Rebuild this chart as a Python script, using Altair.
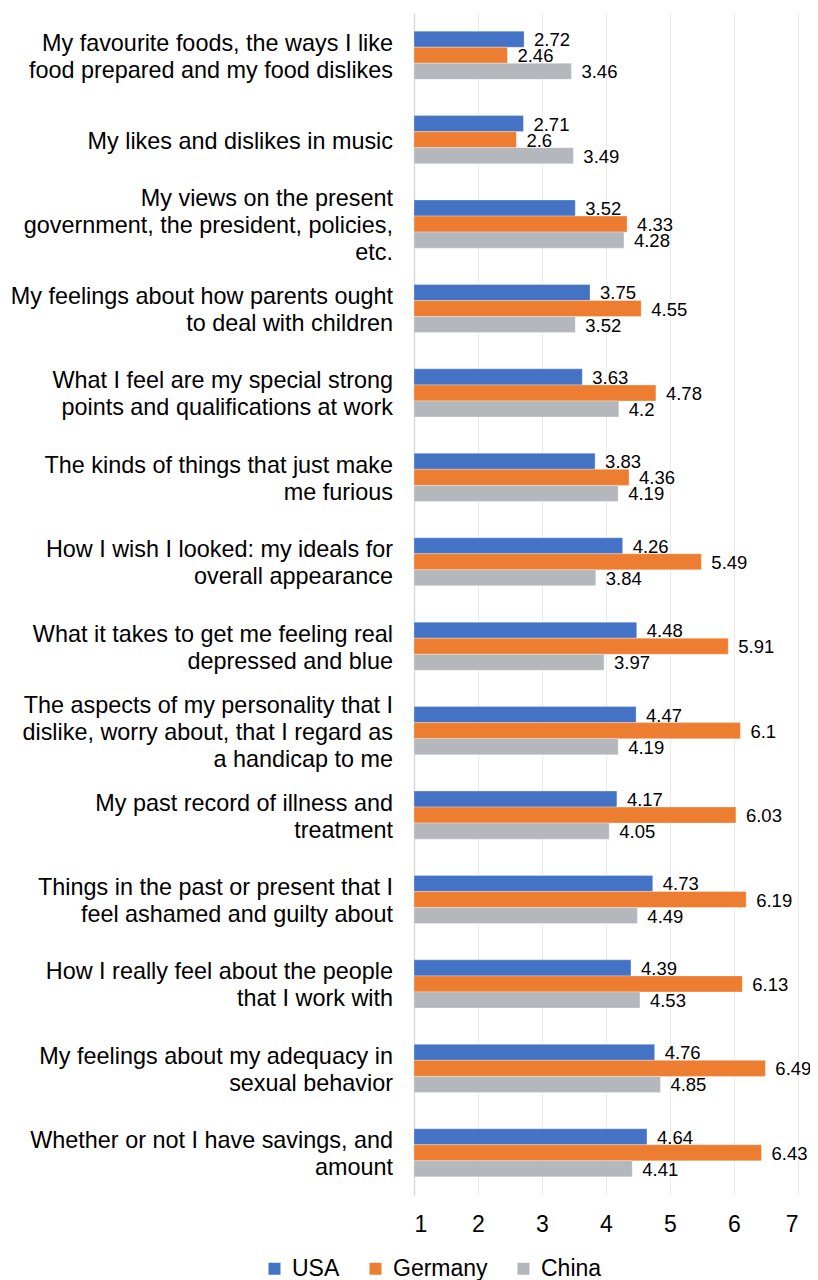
import altair as alt
import pandas as pd

categories = [
    "My favourite foods, the ways I like|food prepared and my food dislikes",
    "My likes and dislikes in music",
    "My views on the present|government, the president, policies,|etc.",
    "My feelings about how parents ought|to deal with children",
    "What I feel are my special strong|points and qualifications at work",
    "The kinds of things that just make|me furious",
    "How I wish I looked: my ideals for|overall appearance",
    "What it takes to get me feeling real|depressed and blue",
    "The aspects of my personality that I|dislike, worry about, that I regard as|a handicap to me",
    "My past record of illness and|treatment",
    "Things in the past or present that I|feel ashamed and guilty about",
    "How I really feel about the people|that I work with",
    "My feelings about my adequacy in|sexual behavior",
    "Whether or not I have savings, and|amount",
]
series = ["USA", "Germany", "China"]
usa = [2.72, 2.71, 3.52, 3.75, 3.63, 3.83, 4.26, 4.48, 4.47, 4.17, 4.73, 4.39, 4.76, 4.64]
germany = [2.46, 2.6, 4.33, 4.55, 4.78, 4.36, 5.49, 5.91, 6.1, 6.03, 6.19, 6.13, 6.49, 6.43]
china = [3.46, 3.49, 4.28, 3.52, 4.2, 4.19, 3.84, 3.97, 4.19, 4.05, 4.49, 4.53, 4.85, 4.41]
colors = ["#4472C4", "#ED7D31", "#B4B7BB"]
x_ticks = [1, 2, 3, 4, 5, 6, 7]

rows = []
for i, c in enumerate(categories):
    for s, vals in zip(series, [usa, germany, china]):
        rows.append({"category": c, "series": s, "value": vals[i]})
df = pd.DataFrame(rows)
cat_df = pd.DataFrame({"category": categories})

FONT = "Liberation Sans"
LINE_H = 27

y_scale = alt.Scale(domain=categories, paddingInner=0.43, paddingOuter=0.215)

y_enc = alt.Y(
    "category:N",
    sort=categories,
    title=None,
    scale=y_scale,
    axis=alt.Axis(
        labels=False,
        ticks=False,
        domain=True,
        domainColor="#D9D9D9",
        domainWidth=1.5,
    ),
)
yoff = alt.YOffset("series:N", sort=series, scale=alt.Scale(paddingInner=0, paddingOuter=0))

x_enc = alt.X(
    "value:Q",
    title=None,
    scale=alt.Scale(domain=[1, 7], zero=False, nice=False),
    axis=alt.Axis(
        values=x_ticks,
        format="d",
        labelFontSize=23,
        labelFont=FONT,
        labelColor="#000000",
        labelPadding=18,
        ticks=False,
        domain=False,
        grid=True,
        gridColor="#EBEBEB",
        gridWidth=1,
    ),
)

bars = alt.Chart(df).mark_bar(stroke="white", strokeWidth=0.6, strokeOpacity=0.5).encode(
    x=x_enc,
    x2=alt.datum(1),
    y=y_enc,
    yOffset=yoff,
    color=alt.Color(
        "series:N",
        sort=series,
        scale=alt.Scale(domain=series, range=colors),
        legend=alt.Legend(
            title=None,
            orient="none",
            legendX=-151,
            legendY=1244,
            direction="horizontal",
            symbolType="square",
            symbolSize=144,
            symbolStrokeWidth=0,
            labelFontSize=23,
            labelFont=FONT,
            labelColor="#000000",
            labelLimit=300,
            columnPadding=24,
            labelOffset=6,
        ),
    ),
)

values_text = alt.Chart(df).mark_text(
    align="left", baseline="middle", dx=10, dy=1, fontSize=18.5, font=FONT, color="#000000"
).encode(
    x=alt.X("value:Q"),
    y=alt.Y("category:N", sort=categories, scale=y_scale),
    yOffset=alt.YOffset("series:N", sort=series),
    text=alt.Text("value:Q"),
)

cat_text = alt.Chart(cat_df).mark_text(
    align="right",
    baseline="middle",
    fontSize=23.4,
    font=FONT,
    color="#000000",
    lineBreak="|",
    lineHeight=LINE_H,
    dy={"expr": f"2 - (length(split(datum.category, '|')) - 1) * {LINE_H} / 2"},
).encode(
    x=alt.value(-21),
    y=alt.Y("category:N", sort=categories, scale=y_scale),
    text="category:N",
)

chart = (
    alt.layer(bars, values_text, cat_text)
    .properties(
        width=384,
        height=1182,
        autosize=alt.AutoSizeParams(type="none"),
        padding={"left": 406, "top": 5, "right": 12, "bottom": 85},
    )
    .configure_view(stroke=None)
)

chart.save("out.html", embed_options={"renderer": "svg", "actions": False})
